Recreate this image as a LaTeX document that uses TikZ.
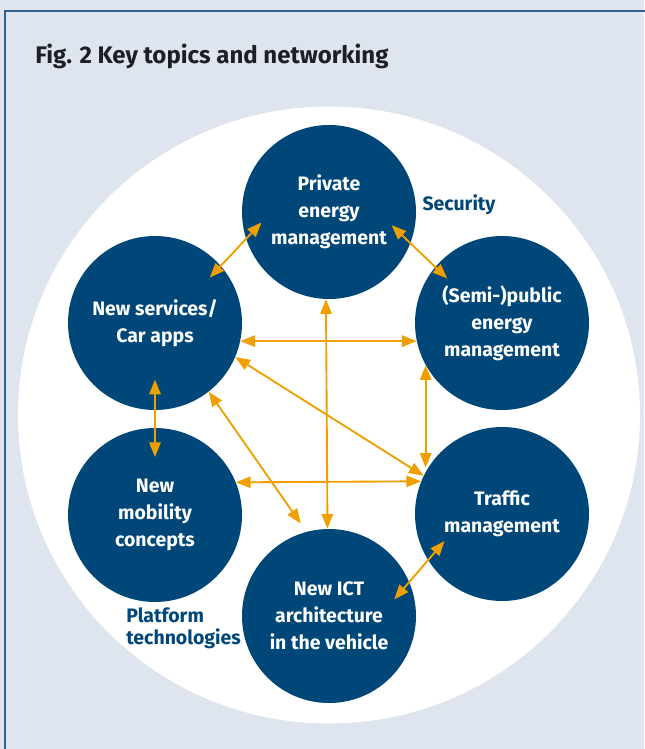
\documentclass[tikz,border=0pt]{standalone}
\usepackage{fontspec}
\setmainfont{Fira Sans}
\usetikzlibrary{arrows.meta}

\definecolor{bgblue}{RGB}{223,229,239}
\definecolor{frameblue}{RGB}{48,98,150}
\definecolor{topicblue}{RGB}{0,71,121}
\definecolor{linkorange}{RGB}{239,160,0}
\definecolor{titlegray}{RGB}{30,30,40}

\tikzset{
  topic/.style={circle, fill=topicblue, minimum size=130.5pt, inner sep=0pt,
    text=white, align=center,
    font=\fontsize{14.6pt}{20.3pt}\selectfont\bfseries},
  area/.style={text=topicblue, inner sep=0pt,
    font=\fontsize{14.6pt}{17pt}\selectfont\bfseries},
  link/.style={draw=linkorange, line width=1.4pt,
    {Triangle[length=11pt,width=8.5pt]}-{Triangle[length=11pt,width=8.5pt]}}
}

\begin{document}
\begin{tikzpicture}[x=0.75pt, y=-0.75pt]
\useasboundingbox (0,0) rectangle (644,749);
\fill[bgblue] (0,0) rectangle (644,749);
\draw[frameblue, line width=1.3pt] (5,760) |- (660,11);

\node[anchor=base west, inner sep=0pt, text=titlegray,
  font=\fontsize{18pt}{20pt}\selectfont\bfseries]
  (title) at (35,64) {Fig. 2 Key topics and networking};

\fill[white] (329,415) ellipse[x radius=311, y radius=308.5];

% the six topics
\node[topic] (priv) at (329,212) {Private\\energy\\management};
\node[topic] (apps) at (155,323) {New services/\\Car apps};
\node[topic] (pub) at (502,323) {(Semi-)public\\energy\\management};
\node[topic] (mob) at (155,515) {New\\mobility\\concepts};
\node[topic] (traffic) at (502,514) {Traffic\\management};
\node[topic] (ict) at (329,616) {New ICT\\architecture\\in the vehicle};

\node[area, anchor=base] (security) at (459,210) {Security};
\node[area, anchor=north west, align=left] (platform) at (126,607)
  {Platform\\technologies};

% links between the topics
\draw[link, shorten <=-12.2pt, shorten >=-17pt] (apps.41.9) -- (priv.198.5);
\draw[link, shorten <=-19.6pt, shorten >=-12.5pt] (priv.339.5) -- (pub.140.1);
\draw[link, shorten <=-19pt, shorten >=-17.3pt] (traffic.212.5) -- (ict.23.7);
\draw[link, shorten <=-23pt, shorten >=-22pt] (apps.south) -- (mob.north);
\draw[link] (apps.-12.4) -- (pub.192.4);
\draw[link] (mob.22) -- (traffic.158.6);
\draw[link] (apps.-23) -- (traffic.154.5);
\draw[link, shorten >=7.5pt] (apps.-52.7) -- (ict.105.5);
\draw[link] (priv.268.5) -- (ict.91.5);
\draw[link, shorten >=3pt] (pub.209.1) -- (traffic.151.5);
\end{tikzpicture}
\end{document}
